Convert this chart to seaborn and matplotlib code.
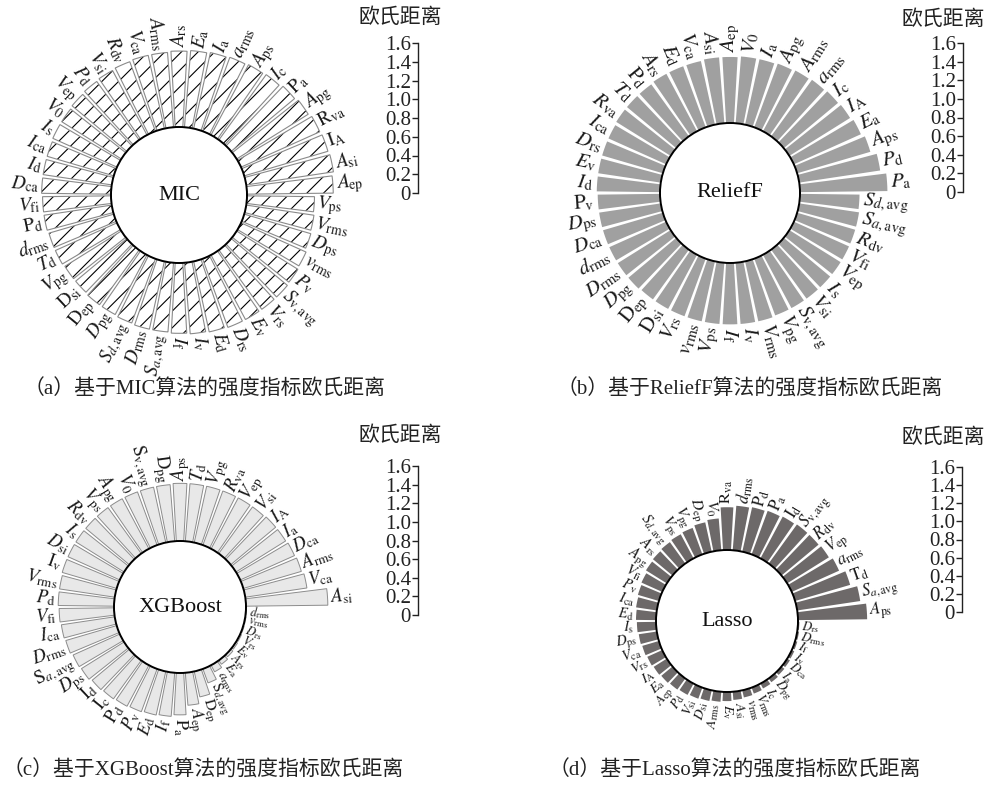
import numpy as np
import pandas as pd
import matplotlib
matplotlib.use("Agg")
import matplotlib.pyplot as plt
import seaborn as sns

W, H = 987, 787
sns.set_theme(style="white")
plt.rcParams['font.family'] = ['Liberation Serif', 'Noto Sans CJK SC']
plt.rcParams['mathtext.fontset'] = 'stix'
plt.rcParams['hatch.linewidth'] = 0.8

# ---------------- data ----------------
mic_labels = [r'$A_{\mathrm{ep}}$', r'$A_{\mathrm{si}}$', r'$\mathrm{I}_{\mathrm{A}}$', r'$\mathrm{R}_{\mathrm{va}}$',
              r'$A_{\mathrm{pg}}$', r'$\mathrm{P}_{\mathrm{a}}$', r'$I_{\mathrm{c}}$', r'$A_{\mathrm{ps}}$',
              r'$a_{\mathrm{rms}}$', r'$I_{\mathrm{a}}$', r'$E_{\mathrm{a}}$', r'$A_{\mathrm{rs}}$',
              r'$A_{\mathrm{rms}}$', r'$V_{\mathrm{ca}}$', r'$R_{\mathrm{dv}}$', r'$V_{\mathrm{si}}$',
              r'$P_{\mathrm{d}}$', r'$V_{\mathrm{ep}}$', r'$V_{0}$', r'$I_{\mathrm{s}}$',
              r'$I_{\mathrm{ca}}$', r'$I_{\mathrm{d}}$', r'$D_{\mathrm{ca}}$', r'$V_{\mathrm{fi}}$',
              r'$\mathrm{P}_{\mathrm{d}}$', r'$d_{\mathrm{rms}}$', r'$T_{\mathrm{d}}$', r'$V_{\mathrm{pg}}$',
              r'$\mathrm{D}_{\mathrm{si}}$', r'$\mathrm{D}_{\mathrm{ep}}$', r'$D_{\mathrm{pg}}$', r'$S_{d,\mathrm{avg}}$',
              r'$D_{\mathrm{rms}}$', r'$S_{a,\mathrm{avg}}$', r'$I_{\mathrm{f}}$', r'$I_{\mathrm{v}}$',
              r'$E_{\mathrm{d}}$', r'$D_{\mathrm{rs}}$', r'$E_{\mathrm{v}}$', r'$V_{\mathrm{rs}}$',
              r'$S_{\mathrm{v,avg}}$', r'$P_{\mathrm{v}}$', r'$v_{\mathrm{rms}}$', r'$D_{\mathrm{ps}}$',
              r'$V_{\mathrm{rms}}$', r'$V_{\mathrm{ps}}$']
mic_values = [0.92, 0.94, 0.93, 0.92, 0.90, 0.88, 0.86, 0.85, 0.84, 0.83,
              0.82, 0.81, 0.80, 0.80, 0.79, 0.78, 0.77, 0.76, 0.75, 0.75,
              0.74, 0.74, 0.74, 0.73, 0.73, 0.72, 0.72, 0.71, 0.71, 0.72,
              0.72, 0.73, 0.74, 0.74, 0.75, 0.76, 0.77, 0.78, 0.78, 0.78,
              0.78, 0.77, 0.76, 0.74, 0.73, 0.72]

relief_labels = [r'$P_{\mathrm{a}}$', r'$P_{\mathrm{d}}$', r'$A_{\mathrm{ps}}$', r'$E_{\mathrm{a}}$',
                 r'$I_{\mathrm{A}}$', r'$I_{\mathrm{c}}$', r'$a_{\mathrm{rms}}$', r'$A_{\mathrm{rms}}$',
                 r'$A_{\mathrm{pg}}$', r'$I_{\mathrm{a}}$', r'$V_{0}$', r'$A_{\mathrm{ep}}$',
                 r'$A_{\mathrm{si}}$', r'$V_{\mathrm{ca}}$', r'$E_{\mathrm{d}}$', r'$A_{\mathrm{rs}}$',
                 r'$\mathrm{P}_{\mathrm{d}}$', r'$T_{\mathrm{d}}$', r'$R_{\mathrm{va}}$', r'$I_{\mathrm{ca}}$',
                 r'$D_{\mathrm{rs}}$', r'$E_{\mathrm{v}}$', r'$I_{\mathrm{d}}$', r'$\mathrm{P}_{\mathrm{v}}$',
                 r'$D_{\mathrm{ps}}$', r'$D_{\mathrm{ca}}$', r'$d_{\mathrm{rms}}$', r'$D_{\mathrm{rms}}$',
                 r'$D_{\mathrm{pg}}$', r'$\mathrm{D}_{\mathrm{ep}}$', r'$\mathrm{D}_{\mathrm{si}}$', r'$V_{\mathrm{rs}}$',
                 r'$v_{\mathrm{rms}}$', r'$V_{\mathrm{ps}}$', r'$I_{\mathrm{f}}$', r'$I_{\mathrm{v}}$',
                 r'$V_{\mathrm{rms}}$', r'$V_{\mathrm{pg}}$', r'$S_{\mathrm{v,avg}}$', r'$V_{\mathrm{si}}$',
                 r'$I_{\mathrm{s}}$', r'$V_{\mathrm{ep}}$', r'$V_{\mathrm{fi}}$', r'$R_{\mathrm{dv}}$',
                 r'$S_{a,\mathrm{avg}}$', r'$S_{d,\mathrm{avg}}$']
relief_values = [0.94, 0.88, 0.82, 0.79, 0.77, 0.76, 0.75, 0.74, 0.73, 0.72,
                 0.72, 0.71, 0.71, 0.70, 0.70, 0.70, 0.69, 0.69, 0.69, 0.68,
                 0.68, 0.68, 0.68, 0.67, 0.67, 0.67, 0.67, 0.67, 0.67, 0.66,
                 0.66, 0.66, 0.66, 0.66, 0.66, 0.66, 0.66, 0.65, 0.65, 0.65,
                 0.65, 0.65, 0.65, 0.65, 0.65, 0.64]

xgb_labels = [r'$A_{\mathrm{si}}$', r'$V_{\mathrm{ca}}$', r'$A_{\mathrm{rms}}$', r'$D_{\mathrm{ca}}$',
              r'$I_{\mathrm{a}}$', r'$I_{\mathrm{A}}$', r'$V_{\mathrm{si}}$', r'$V_{\mathrm{ep}}$',
              r'$R_{\mathrm{va}}$', r'$V_{\mathrm{pg}}$', r'$T_{\mathrm{d}}$', r'$A_{\mathrm{ps}}$',
              r'$\mathrm{D}_{\mathrm{pg}}$', r'$\mathrm{S}_{\mathrm{v,avg}}$', r'$V_{0}$', r'$A_{\mathrm{pg}}$',
              r'$V_{\mathrm{ps}}$', r'$R_{\mathrm{dv}}$', r'$I_{\mathrm{s}}$', r'$D_{\mathrm{si}}$',
              r'$\mathrm{I}_{\mathrm{v}}$', r'$V_{\mathrm{rms}}$', r'$P_{\mathrm{d}}$', r'$V_{\mathrm{fi}}$',
              r'$I_{\mathrm{ca}}$', r'$D_{\mathrm{rms}}$', r'$\mathrm{S}_{a,\mathrm{avg}}$', r'$D_{\mathrm{ps}}$',
              r'$\mathrm{I}_{\mathrm{d}}$', r'$\mathrm{I}_{\mathrm{c}}$', r'$\mathrm{P}_{\mathrm{d}}$', r'$P_{\mathrm{v}}$',
              r'$E_{\mathrm{d}}$', r'$I_{\mathrm{f}}$', r'$\mathrm{P}_{\mathrm{a}}$', r'$A_{\mathrm{ep}}$',
              r'$\mathrm{D}_{\mathrm{ep}}$', r'$\mathrm{S}_{d,\mathrm{avg}}$', r'$a_{\mathrm{rms}}$', r'$E_{\mathrm{a}}$',
              r'$A_{\mathrm{rs}}$', r'$E_{\mathrm{v}}$', r'$V_{\mathrm{rs}}$', r'$D_{\mathrm{rs}}$',
              r'$v_{\mathrm{rms}}$', r'$d_{\mathrm{rms}}$']
xgb_values = [0.88, 0.67, 0.65, 0.64, 0.63, 0.63, 0.62, 0.62, 0.62, 0.62,
              0.62, 0.62, 0.61, 0.61, 0.61, 0.61, 0.61, 0.61, 0.61, 0.61,
              0.61, 0.60, 0.60, 0.59, 0.58, 0.57, 0.55, 0.54, 0.52, 0.51,
              0.50, 0.49, 0.48, 0.47, 0.45, 0.35, 0.28, 0.16, 0.08, 0.05,
              0.03, 0.02, 0.015, 0.01, 0.008, 0.005]

lasso_labels = [r'$A_{\mathrm{ps}}$', r'$S_{a,\mathrm{avg}}$', r'$\mathrm{T}_{\mathrm{d}}$', r'$a_{\mathrm{rms}}$',
                r'$V_{\mathrm{ep}}$', r'$R_{\mathrm{dv}}$', r'$S_{\mathrm{v,avg}}$', r'$\mathrm{I}_{\mathrm{d}}$',
                r'$\mathrm{P}_{\mathrm{a}}$', r'$\mathrm{P}_{\mathrm{d}}$', r'$d_{\mathrm{rms}}$', r'$\mathrm{R}_{\mathrm{va}}$',
                r'$V_{0}$', r'$D_{\mathrm{ep}}$', r'$V_{\mathrm{pg}}$', r'$V_{\mathrm{ps}}$',
                r'$S_{d,\mathrm{avg}}$', r'$A_{\mathrm{rs}}$', r'$A_{\mathrm{pg}}$', r'$V_{\mathrm{fi}}$',
                r'$P_{\mathrm{v}}$', r'$I_{\mathrm{ca}}$', r'$E_{\mathrm{d}}$', r'$I_{\mathrm{s}}$',
                r'$D_{\mathrm{ps}}$', r'$V_{\mathrm{ca}}$', r'$V_{\mathrm{rs}}$', r'$I_{\mathrm{A}}$',
                r'$E_{\mathrm{a}}$', r'$A_{\mathrm{ep}}$', r'$P_{\mathrm{d}}$', r'$V_{\mathrm{si}}$',
                r'$D_{\mathrm{si}}$', r'$A_{\mathrm{rms}}$', r'$E_{\mathrm{v}}$', r'$A_{\mathrm{si}}$',
                r'$v_{\mathrm{rms}}$', r'$V_{\mathrm{rms}}$', r'$I_{\mathrm{c}}$', r'$D_{\mathrm{pg}}$',
                r'$I_{\mathrm{a}}$', r'$D_{\mathrm{ca}}$', r'$I_{\mathrm{v}}$', r'$I_{\mathrm{f}}$',
                r'$D_{\mathrm{rms}}$', r'$D_{\mathrm{rs}}$']
lasso_values = [0.76, 0.70, 0.63, 0.57, 0.54, 0.53, 0.53, 0.52, 0.51, 0.50,
                0.49, 0.47, 0.35, 0.33, 0.31, 0.30, 0.29, 0.28, 0.27, 0.25,
                0.24, 0.23, 0.22, 0.21, 0.20, 0.19, 0.18, 0.17, 0.16, 0.15,
                0.14, 0.13, 0.12, 0.11, 0.10, 0.09, 0.08, 0.07, 0.06, 0.05,
                0.04, 0.035, 0.03, 0.025, 0.02, 0.015]

method_names = ['MIC', 'ReliefF', 'XGBoost', 'Lasso']
captions = ['（a）基于MIC算法的强度指标欧氏距离', '（b）基于ReliefF算法的强度指标欧氏距离',
            '（c）基于XGBoost算法的强度指标欧氏距离', '（d）基于Lasso算法的强度指标欧氏距离']
scale_ticks = [0, 0.2, 0.4, 0.6, 0.8, 1.0, 1.2, 1.4, 1.6]
scale_ticklabels = ['0', '0.2', '0.4', '0.6', '0.8', '1.0', '1.2', '1.4', '1.6']
scale_title = '欧氏距离'

fig = plt.figure(figsize=(W / 100, H / 100), dpi=100)


def px_rect(x0, y0, w, h):
    return [x0 / W, 1 - (y0 + h) / H, w / W, h / H]


def circ_panel(cx, cy, hole, ppu, labels, values, name, layers, fs_fn, pad=0.04, width=0.82):
    rmax = 1.05
    R = rmax * ppu + hole
    ax = fig.add_axes(px_rect(cx - R, cy - R, 2 * R, 2 * R), projection='polar')
    n = len(values)
    theta = (np.arange(n) + 0.5) * 2 * np.pi / n
    df = pd.DataFrame({'theta': theta, 'value': values})
    for kw in layers:
        sns.barplot(data=df, x='theta', y='value', native_scale=True, orient='x',
                    errorbar=None, width=width, saturation=1, ax=ax, **kw)
    ax.set_ylim(0, rmax)
    ax.set_rorigin(-hole / ppu)
    ax.set_xticks([])
    ax.set_yticks([])
    ax.set_xlabel('')
    ax.set_ylabel('')
    ax.grid(False)
    ax.patch.set_facecolor('none')
    ax.spines['polar'].set_visible(False)
    if 'inner' in ax.spines:
        ax.spines['inner'].set_color('black')
        ax.spines['inner'].set_linewidth(1.4)
    for t, v, lab in zip(theta, values, labels):
        deg = np.degrees(t)
        if deg <= 90 + 1e-6 or deg >= 270 - 1e-6:
            rot = deg if deg <= 90 + 1e-6 else deg - 360
            ha = 'left'
        else:
            rot = deg - 180
            ha = 'right'
        ax.text(t, v + pad, lab, rotation=rot, rotation_mode='anchor', ha=ha, va='center',
                fontsize=fs_fn(v), clip_on=False, color='#1a1a1a')
    ax.text(0.5, 0.5, name, transform=ax.transAxes, ha='center', va='center', fontsize=16,
            color='#111111')
    return ax


def scale_bar(x, y0, y1, tx, ty):
    sax = fig.add_axes(px_rect(x, y1, 0.1, y0 - y1))
    sax.set_ylim(0, 1.6)
    sax.set_yticks(scale_ticks)
    sax.set_yticklabels(scale_ticklabels)
    sax.set_xticks([])
    for s in ['right', 'top', 'bottom']:
        sax.spines[s].set_visible(False)
    sax.spines['left'].set_color('#222222')
    sax.spines['left'].set_linewidth(1.0)
    sax.tick_params(axis='y', direction='out', length=4, width=1.0, labelsize=15, pad=1,
                    left=True, colors='#222222')
    sax.patch.set_visible(False)
    fig.text(tx / W, 1 - ty / H, scale_title, ha='center', va='center', fontsize=15, color='#222222')


# (a) MIC
circ_panel(179, 195, 68, 93.75, mic_labels, mic_values, method_names[0],
           [dict(color='white', edgecolor='black', linewidth=0, hatch='//'),
            dict(facecolor='none', edgecolor='#8a8a8a', linewidth=0.8)],
           lambda v: 14, pad=0.03)
scale_bar(418, 193, 43, 400, 18)

# (b) ReliefF
circ_panel(730, 193, 70, 93, relief_labels, relief_values, method_names[1],
           [dict(color='#a0a0a0', linewidth=0)],
           lambda v: 15)
scale_bar(963, 192, 43, 943, 20)

# (c) XGBoost
circ_panel(180, 607, 66, 93, xgb_labels, xgb_values, method_names[2],
           [dict(color='#e8e8e8', edgecolor='#8c8c8c', linewidth=0.7)],
           lambda v: min(13.5, 9 + 9 * v), pad=0.03)
scale_bar(418, 615, 466, 400, 436)

# (d) Lasso
circ_panel(727, 621, 71, 91, lasso_labels, lasso_values, method_names[3],
           [dict(color='#6d6969', linewidth=0)],
           lambda v: min(12, 9.5 + 5 * v), pad=0.03)
scale_bar(962, 612, 467, 943, 438)

cap_pos = [(205, 390, 'center'), (750, 390, 'center'), (3, 771, 'left'), (735, 771, 'center')]
for (x, y, ha), cap in zip(cap_pos, captions):
    fig.text(x / W, 1 - y / H, cap, ha=ha, va='center', fontsize=15, color='#222222')

fig.savefig('out.png', dpi=100)
